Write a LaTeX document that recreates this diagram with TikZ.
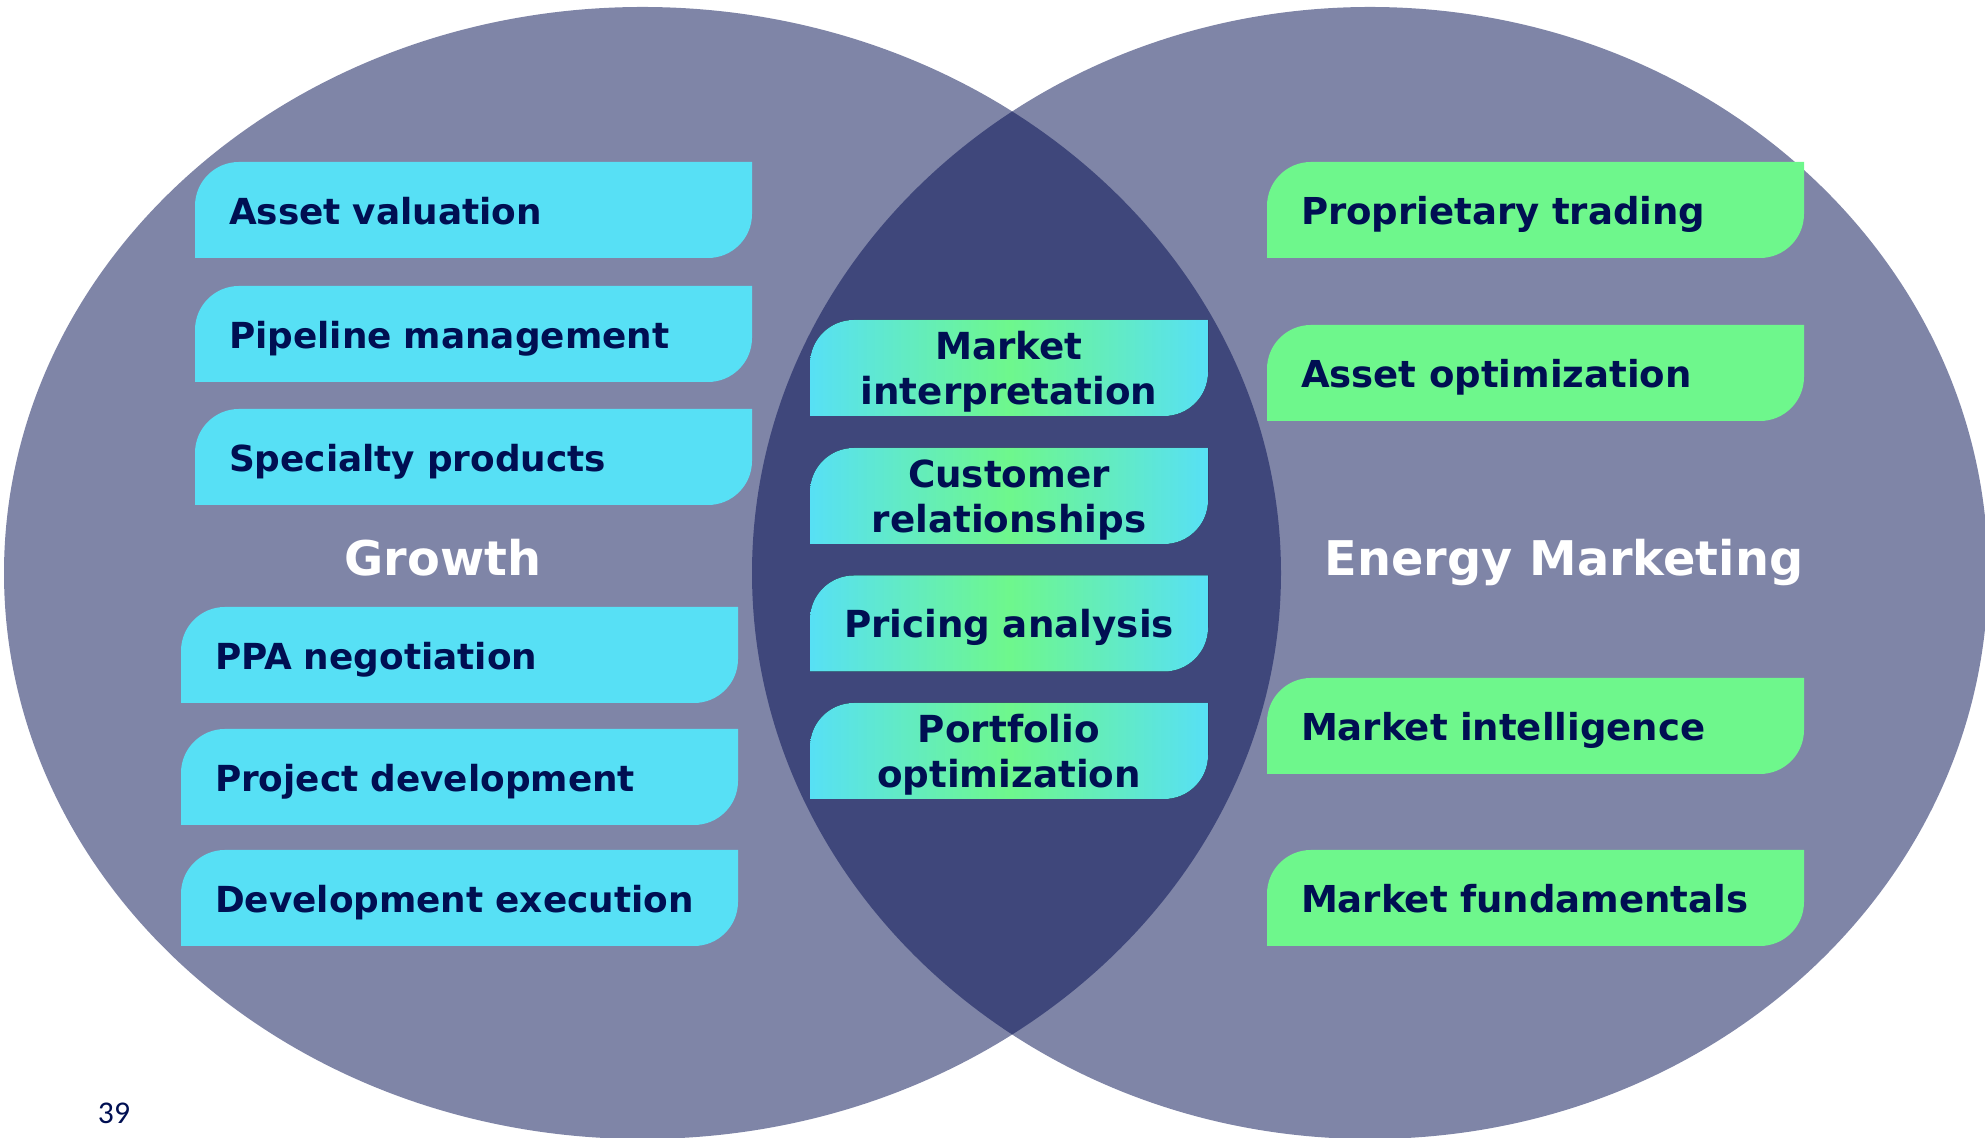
\documentclass[tikz,border=0pt]{standalone}
\usepackage{fontspec}
\setmainfont{DejaVu Sans}
\newfontfamily\pagenumfont{Carlito}
\definecolor{vennnavy}{RGB}{0, 11, 80}
\definecolor{venntext}{RGB}{0, 15, 82}
\definecolor{venncyan}{RGB}{87, 224, 245}
\definecolor{venngreen}{RGB}{110, 247, 140}

\begin{document}
\begin{tikzpicture}[
    tab/.style={minimum height=0.96cm, inner xsep=0.34cm, inner ysep=0pt,
        text=venntext, font=\fontsize{10.2}{12.5}\selectfont\bfseries,
        path picture={\fill[#1] (path picture bounding box.south west)
            -- ([xshift=-0.44cm]path picture bounding box.south east) arc (270:360:0.44cm)
            -- (path picture bounding box.north east)
            -- ([xshift=0.44cm]path picture bounding box.north west) arc (90:180:0.44cm)
            -- cycle;}},
    oneline/.style={text height=0.9em, text depth=0.1em},
    growthtab/.style={tab=venncyan, text width=4.89cm, align=left, oneline},
    tradetab/.style={tab=venngreen, text width=4.69cm, align=left, oneline,
        font=\fontsize{10.55}{12.5}\selectfont\bfseries},
    sharedtab/.style={tab={left color=venncyan, right color=venncyan, middle color=venngreen},
        text width=3.78cm, inner xsep=0.1cm, align=center,
        font=\fontsize{10.6}{12.8}\selectfont\bfseries,
        text height=10.56pt, text depth=15.3pt},
    circlelabel/.style={text=white, font=\fontsize{13.6}{16}\selectfont\bfseries,
        text height=0.76em, text depth=0pt}
]
\useasboundingbox (0, 0) rectangle (19.85, 11.38);
\clip (0, 0) rectangle (19.85, 11.38);

% === Los dos conjuntos ===
\fill[vennnavy, fill opacity=0.5] (6.425, 5.65) ellipse [x radius=6.385, y radius=5.66];
\fill[vennnavy, fill opacity=0.5] (13.70, 5.65) ellipse [x radius=6.18, y radius=5.66];

% === Growth ===
\node[circlelabel] (growth) at (4.43, 5.76) {Growth};

\node[growthtab] (valuation) at (4.735, 9.28) {Asset valuation};
\node[growthtab] (pipeline) at (4.735, 8.04) {Pipeline management};
\node[growthtab] (specialty) at (4.735, 6.81) {Specialty products};
\node[growthtab] (ppa) at (4.595, 4.83) {PPA negotiation};
\node[growthtab] (project) at (4.595, 3.61) {Project development};
\node[growthtab] (execution) at (4.595, 2.40) {Development execution};

% === Interseccion ===
\node[sharedtab] (interpretation) at (10.09, 7.70) {Market\\interpretation};
\node[sharedtab] (customer) at (10.09, 6.42) {Customer\\relationships};
\node[sharedtab, oneline] (pricing) at (10.09, 5.145) {Pricing analysis};
\node[sharedtab] (portfolio) at (10.09, 3.87) {Portfolio\\optimization};

% === Energy Marketing ===
\node[circlelabel] (energy) at (15.64, 5.76) {Energy Marketing};

\node[tradetab] (proprietary) at (15.355, 9.28) {Proprietary trading};
\node[tradetab] (assetopt) at (15.355, 7.65) {Asset optimization};
\node[tradetab] (intelligence) at (15.355, 4.12) {Market intelligence};
\node[tradetab] (fundamentals) at (15.355, 2.40) {Market fundamentals};

% numero de pagina
\node[text=venntext, font=\pagenumfont\fontsize{9}{11}\selectfont] (pagenum) at (1.14, 0.25) {39};
\end{tikzpicture}
\end{document}
